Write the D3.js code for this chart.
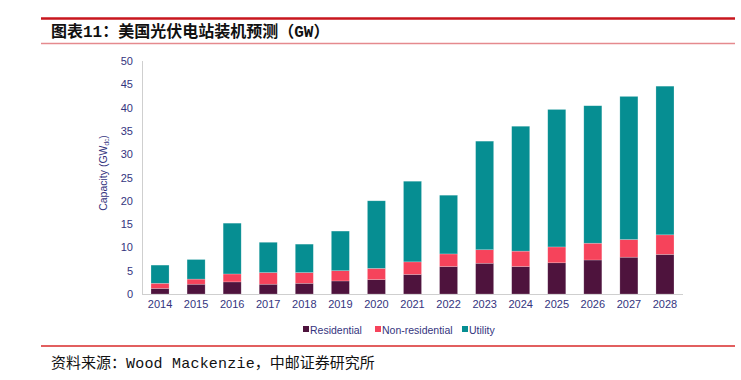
<!DOCTYPE html>
<html><head><meta charset="utf-8">
<script src="https://cdn.jsdelivr.net/npm/d3@7"></script>
<style>body{margin:0;background:#fff}svg{display:block}</style>
</head><body>
<svg id="c" width="741" height="380"></svg>
<script>
const years = ["2014","2015","2016","2017","2018","2019","2020","2021","2022","2023","2024","2025","2026","2027","2028"];
const residential    = [1.2, 2.1, 2.6, 2.1, 2.3, 2.8, 3.1, 4.2, 5.9, 6.6, 5.9, 6.7, 7.3, 7.9, 8.5];
const nonResidential = [1.1, 1.1, 1.7, 2.5, 2.3, 2.2, 2.4, 2.7, 2.7, 2.9, 3.3, 3.4, 3.6, 3.8, 4.2];
const utility        = [3.9, 4.2, 10.9, 6.5, 6.1, 8.5, 14.5, 17.3, 12.6, 23.3, 26.8, 29.5, 29.5, 30.7, 31.9];
const yTicks = [0,5,10,15,20,25,30,35,40,45,50];
const seriesNames = ["Residential","Non-residential","Utility"];
const colors = ["#4e133d","#f6435b","#068e92"];

const svg = d3.select("#c");
const txt = "#34347e";

// header / footer rules
svg.append("line").attr("x1",41).attr("x2",735).attr("y1",18.5).attr("y2",18.5).attr("stroke","#c8161e").attr("stroke-width",2.5);
svg.append("line").attr("x1",41).attr("x2",735).attr("y1",43.5).attr("y2",43.5).attr("stroke","#e58a8e").attr("stroke-width",1.5);
svg.append("line").attr("x1",41).attr("x2",735).attr("y1",346).attr("y2",346).attr("stroke","#d82a2a").attr("stroke-width",1.5);

const cjk = "'Noto Sans CJK SC','Liberation Mono',monospace";
const title = svg.append("text").attr("x",51).attr("y",37).attr("font-family",cjk).attr("font-size",16).attr("font-weight","bold").attr("fill","#111");
title.append("tspan").text("图表");
title.append("tspan").attr("font-family","'Liberation Mono',monospace").text("11");
title.append("tspan").text("：美国光伏电站装机预测（");
title.append("tspan").attr("font-family","'Liberation Mono',monospace").text("GW");
title.append("tspan").text("）");

const src = svg.append("text").attr("x",51).attr("y",368).attr("font-family",cjk).attr("font-size",15).attr("fill","#111");
src.append("tspan").text("资料来源：");
src.append("tspan").attr("font-family","'Liberation Mono',monospace").attr("letter-spacing","0.2px").text("Wood Mackenzie");
src.append("tspan").text("，中邮证券研究所");

// chart
const x = d3.scaleBand().domain(years).range([142,683]).paddingInner(0.5).paddingOuter(0.25);
const y = d3.scaleLinear().domain([0,50]).range([294,61]);

const data = years.map((yr,i)=>({year:yr, Residential:residential[i], "Non-residential":nonResidential[i], Utility:utility[i]}));
const stacked = d3.stack().keys(seriesNames)(data);

// axes
svg.append("line").attr("x1",142.5).attr("x2",142.5).attr("y1",y(50)).attr("y2",y(0)).attr("stroke","#cfcfcf").attr("stroke-width",1);
svg.append("line").attr("x1",142).attr("x2",683).attr("y1",y(0)+0.5).attr("y2",y(0)+0.5).attr("stroke","#cfcfcf").attr("stroke-width",1);

const yAxis = d3.axisLeft(y).tickValues(yTicks).tickSize(0).tickPadding(9);
const gy = svg.append("g").attr("transform","translate(142,0)").call(yAxis);
gy.select(".domain").remove();
gy.selectAll("text").attr("font-family","'Liberation Sans',Arial,sans-serif").attr("font-size",11).attr("fill",txt);

const xAxis = d3.axisBottom(x).tickSize(0).tickPadding(6);
const gx = svg.append("g").attr("transform",`translate(0,${y(0)})`).call(xAxis);
gx.select(".domain").remove();
gx.selectAll("text").attr("font-family","'Liberation Sans',Arial,sans-serif").attr("font-size",11).attr("fill",txt);

// y label
const yl = svg.append("text").attr("transform","translate(107,173) rotate(-90)").attr("text-anchor","middle")
  .attr("font-family","'Liberation Sans',Arial,sans-serif").attr("font-size",10.5).attr("fill",txt);
yl.append("tspan").text("Capacity (GW");
yl.append("tspan").attr("font-size",6.5).attr("dy",2).text("dc");
yl.append("tspan").attr("dy",-2).text(")");

// bars
svg.append("g").selectAll("g").data(stacked).join("g").attr("fill",(d,i)=>colors[i])
  .selectAll("rect").data(d=>d).join("rect")
  .attr("x",d=>x(d.data.year)).attr("width",x.bandwidth())
  .attr("y",d=>y(d[1])).attr("height",d=>y(d[0])-y(d[1]))
  .attr("stroke","rgba(255,255,255,0.35)").attr("stroke-width",0.6);

// legend
const legX = [303,375,462];
const lg = svg.append("g");
seriesNames.forEach((n,i)=>{
  lg.append("rect").attr("x",legX[i]).attr("y",326).attr("width",6).attr("height",6).attr("fill",colors[i]);
  lg.append("text").attr("x",legX[i]+7).attr("y",333.5).attr("font-family","'Liberation Sans',Arial,sans-serif").attr("font-size",10.5).attr("fill",txt).text(n);
});
</script>
</body></html>
